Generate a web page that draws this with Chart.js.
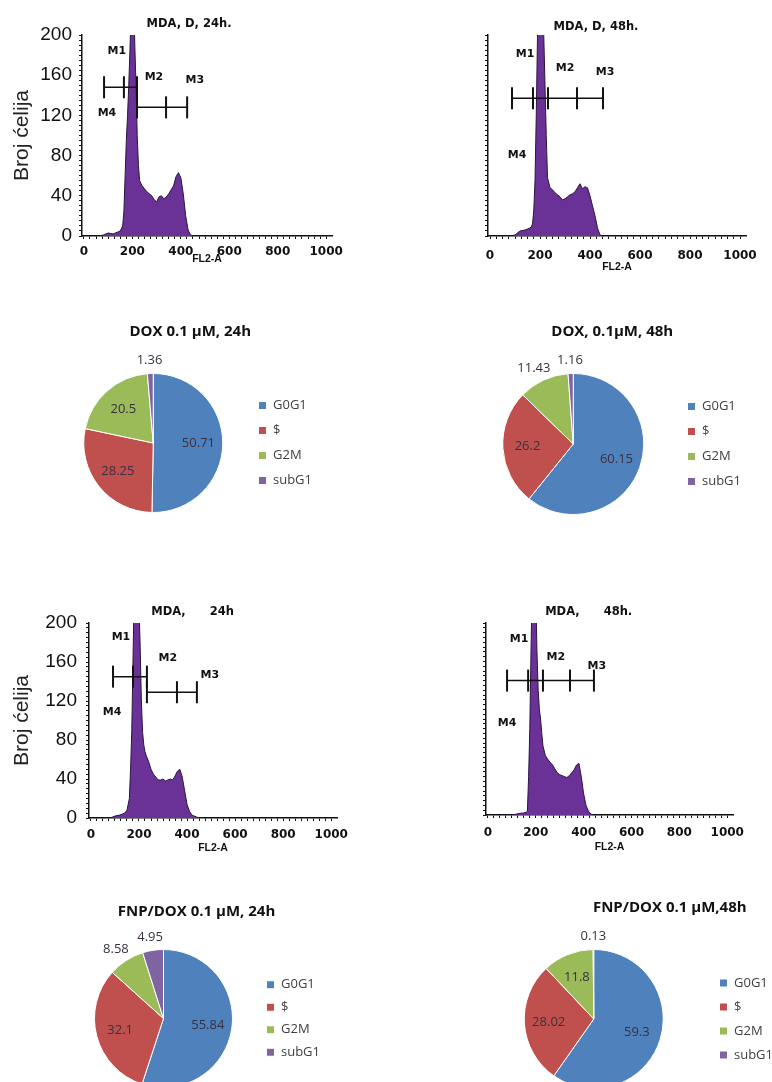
<!DOCTYPE html>
<html>
<head>
<meta charset="utf-8">
<title>MDA – ćelijski ciklus</title>
<script src="https://cdn.jsdelivr.net/npm/chart.js"></script>
<style>
  html, body { margin: 0; background: #fff; }
  #page { position: relative; width: 772px; height: 1082px; overflow: hidden; background: #fff; }
  #page canvas { position: absolute; }
</style>
</head>
<body>
<div id="page">
  <canvas id="histD24"></canvas>
  <canvas id="histD48"></canvas>
  <canvas id="pieD24"></canvas>
  <canvas id="pieD48"></canvas>
  <canvas id="histC24"></canvas>
  <canvas id="histC48"></canvas>
  <canvas id="pieC24"></canvas>
  <canvas id="pieC48"></canvas>
</div>
<script>
// FL2-A kanali (x osa histograma)
const channels = [60, 80, 100, 120, 140, 150, 160, 165, 170, 175, 180, 185, 190, 195, 200, 205, 210, 215, 220, 225,
  230, 240, 250, 260, 270, 280, 290, 300, 310, 320, 330, 340, 350, 360, 370, 380, 390, 400, 410, 420, 430, 440, 450, 460];

// broj ćelija po kanalu
const countsD24 = [0, 1, 3, 2, 4, 5, 10, 25, 60, 95, 120, 150, 185, 230, 260, 250, 190, 150, 100, 70,
  55, 50, 47, 44, 42, 40, 36, 34, 39, 40, 37, 39, 42, 46, 50, 59, 63, 58, 42, 20, 6, 1, 0, 0];
const countsD48 = [0, 0, 1, 5, 6, 7, 8, 9, 12, 25, 55, 120, 200, 260, 270, 260, 240, 200, 150, 100,
  58, 48, 46, 43, 41, 39, 36, 37, 39, 41, 42, 44, 48, 52, 47, 49, 48, 40, 30, 20, 8, 1, 0, 0];
const countsC24 = [0, 0, 2, 3, 5, 8, 20, 50, 90, 160, 230, 260, 250, 240, 220, 175, 120, 88, 75, 68,
  64, 58, 50, 45, 42, 39, 39, 40, 38, 39, 40, 39, 43, 48, 50, 42, 28, 14, 7, 3, 2, 1, 0, 0];
const countsC48 = [0, 0, 0, 1, 2, 2, 3, 4, 40, 90, 170, 240, 270, 260, 230, 170, 130, 110, 100, 85,
  72, 62, 58, 55, 52, 48, 44, 42, 41, 40, 39, 41, 44, 47, 52, 54, 40, 22, 10, 4, 1, 0, 0, 0];

// markeri (granice kanala i visina linije)
const gateEdgesD24 = [[83, 165, 219], [219, 339, 426]];
const gateLevelsD24 = [148, 128];
const gateEdgesD48 = [[88, 172, 232, 348, 452]];
const gateLevelsD48 = [137];
const gateEdgesC24 = [[92, 175, 233], [233, 358, 441]];
const gateLevelsC24 = [145, 129];
const gateEdgesC48 = [[80, 168, 230, 343, 443]];
const gateLevelsC48 = [140];

const markerNames = ['M1', 'M2', 'M3', 'M4'];
const markersD24 = [[136, 184], [289, 158], [458, 155], [95, 122]];
const markersD48 = [[140, 181], [300, 167], [460, 163], [108, 80]];
const markersC24 = [[125, 185], [320, 164], [495, 147], [88, 109]];
const markersC48 = [[130, 183], [284, 164], [455, 155], [80, 96]];

const xTickLabels = [0, 200, 400, 600, 800, 1000];
const yTickLabels = [0, 40, 80, 120, 160, 200];

// faze ciklusa (%)
const phases = ['G0G1', '$', 'G2M', 'subG1'];
const phaseColors = ['#4f81bd', '#c0504d', '#9bbb59', '#8064a2'];
const pieDox24 = [50.71, 28.25, 20.5, 1.36];
const pieDox48 = [60.15, 26.2, 11.43, 1.16];
const pieFnp24 = [55.84, 32.1, 8.58, 4.95];
const pieFnp48 = [59.3, 28.02, 11.8, 0.13];

// sitne podjele osa
const xMinorTicks = Array.from({ length: 41 }, (_, i) => i * 25);
const yMinorTicks = Array.from({ length: 41 }, (_, i) => i * 5);

const INK = '#111';

// natpisi na histogramu (naslov i M1..M4) preko skala
const facsText = {
  id: 'facsText',
  afterDatasetsDraw(chart, args, o) {
    const { ctx, scales: { x, y } } = chart;
    ctx.save();
    ctx.fillStyle = INK;
    ctx.textAlign = 'center';
    ctx.textBaseline = 'middle';
    ctx.font = 'bold 11px "DejaVu Sans"';
    o.markers.forEach((m, i) => {
      ctx.fillText(markerNames[i], x.getPixelForValue(m[0]), y.getPixelForValue(m[1]));
    });
    ctx.font = 'bold 11.5px "DejaVu Sans"';
    ctx.fillText(o.title, x.getPixelForValue(o.titleAt[0]), y.getPixelForValue(o.titleAt[1]));
    ctx.restore();
  }
};

function place(canvas, box) {
  canvas.width = box.w;
  canvas.height = box.h;
  canvas.style.left = box.x + 'px';
  canvas.style.top = box.y + 'px';
}

function histogram(id, box, area, counts, gateEdges, gateLevels, markers, title, titleAt, o) {
  const canvas = document.getElementById(id);
  place(canvas, box);
  const yWidth = area.left - box.x;
  const xHeight = o.xTitleY + 6.3 - area.bottom;

  const datasets = [{
    data: counts.map((c, i) => ({ x: channels[i], y: c })),
    borderColor: '#2b1540',
    borderWidth: 1,
    backgroundColor: '#6a3196',
    fill: 'origin',
    pointRadius: 0,
    tension: 0,
    order: 1
  }];
  gateEdges.forEach((edges, g) => {
    datasets.push({
      data: edges.map(e => ({ x: e, y: gateLevels[g] })),
      borderColor: INK,
      borderWidth: 1.5,
      fill: false,
      pointStyle: 'line',
      pointRotation: 90,
      pointRadius: 11,
      pointBorderWidth: 2,
      pointBorderColor: INK,
      order: 0
    });
  });

  return new Chart(canvas, {
    type: 'line',
    data: { datasets },
    options: {
      responsive: false,
      animation: false,
      events: [],
      layout: {
        padding: {
          left: 0,
          top: area.top - box.y,
          right: box.x + box.w - area.right,
          bottom: box.y + box.h - area.bottom - xHeight
        }
      },
      plugins: {
        legend: { display: false },
        tooltip: { enabled: false },
        facsText: { markers, title, titleAt }
      },
      scales: {
        x: {
          type: 'linear', min: -8, max: 1024,
          afterBuildTicks: s => { s.ticks = xMinorTicks.map(v => ({ value: v })); },
          afterFit: s => { s.height = xHeight; },
          ticks: {
            autoSkip: false, maxRotation: 0, minRotation: 0, padding: o.xPad, color: INK,
            font: { family: 'DejaVu Sans', size: 12, weight: 'bold' },
            callback: v => xTickLabels.includes(v) ? String(v) : ''
          },
          grid: { drawOnChartArea: false, tickLength: 3, tickColor: INK },
          border: { color: INK, width: 1.5 },
          title: {
            display: true, text: 'FL2-A', color: INK,
            font: { family: 'Liberation Sans', size: 10.5, weight: 'bold' },
            padding: { top: 0, bottom: 0 }
          }
        },
        y: {
          type: 'linear', min: 0, max: 200,
          afterBuildTicks: s => { s.ticks = yMinorTicks.map(v => ({ value: v })); },
          afterFit: s => { s.width = yWidth; },
          ticks: {
            autoSkip: false, padding: o.yPad, color: INK,
            font: { family: 'Liberation Sans', size: 19 },
            callback: v => (o.yLabels && yTickLabels.includes(v)) ? String(v) : ''
          },
          grid: { drawOnChartArea: false, tickLength: 3, tickColor: INK },
          border: { color: INK, width: 1.5 },
          title: {
            display: o.yLabels, text: 'Broj ćelija', color: '#222',
            font: { family: 'Liberation Sans', size: 21 },
            padding: { top: 9.4, bottom: 0 }
          }
        }
      }
    },
    plugins: [facsText]
  });
}

// brojevi na kriškama
const sliceLabels = {
  id: 'sliceLabels',
  afterDatasetsDraw(chart, args, o) {
    const ctx = chart.ctx;
    const meta = chart.getDatasetMeta(0);
    const values = chart.data.datasets[0].data;
    ctx.save();
    ctx.font = '13px "Open Sans"';
    ctx.fillStyle = '#3a3040';
    ctx.textAlign = 'center';
    ctx.textBaseline = 'middle';
    meta.data.forEach((arc, i) => {
      const p = arc.getProps(['x', 'y', 'startAngle', 'endAngle', 'outerRadius'], true);
      const mid = (p.startAngle + p.endAngle) / 2;
      const cos = Math.cos(mid), sin = Math.sin(mid);
      const text = String(values[i]);
      let px, py;
      if (o.outside[i]) {
        const d = p.outerRadius + 6;
        px = p.x + cos * d + cos * ctx.measureText(text).width / 2;
        py = p.y + sin * d + sin * 7;
      } else {
        const d = p.outerRadius * 0.65;
        px = p.x + cos * d;
        py = p.y + sin * d;
      }
      ctx.fillText(text, px, py);
    });
    ctx.restore();
  }
};

// naslov iznad pite
const caption = {
  id: 'caption',
  afterDraw(chart, args, o) {
    const { ctx, chartArea: a } = chart;
    ctx.save();
    ctx.font = 'bold 15px "Open Sans"';
    ctx.fillStyle = '#111';
    ctx.textAlign = 'center';
    ctx.textBaseline = 'middle';
    ctx.fillText(o.text, (a.left + a.right) / 2 + o.dx, o.y);
    ctx.restore();
  }
};

function pie(id, box, padTop, values, title, dx, outside, legendPad) {
  const canvas = document.getElementById(id);
  place(canvas, box);
  return new Chart(canvas, {
    type: 'pie',
    data: {
      labels: phases,
      datasets: [{
        data: values,
        backgroundColor: phaseColors,
        borderColor: '#fff',
        borderWidth: 1,
        hoverOffset: 0
      }]
    },
    options: {
      responsive: false,
      animation: false,
      events: [],
      layout: { padding: { top: padTop, left: 0, right: 0, bottom: 0 } },
      plugins: {
        tooltip: { enabled: false },
        legend: {
          position: 'right',
          labels: {
            boxWidth: 8, boxHeight: 8, padding: legendPad, color: '#404040',
            font: { family: 'Open Sans', size: 13 }
          }
        },
        sliceLabels: { outside },
        caption: { text: title, dx, y: 20 }
      }
    },
    plugins: [sliceLabels, caption]
  });
}

histogram('histD24', { x: 0, y: 0, w: 360, h: 280 }, { left: 82, right: 332, top: 35, bottom: 236 },
  countsD24, gateEdgesD24, gateLevelsD24, markersD24, 'MDA, D, 24h.', [434, 211],
  { xTitleY: 259, xPad: 6, yPad: 7, yLabels: true });
histogram('histD48', { x: 400, y: 0, w: 372, h: 280 }, { left: 488, right: 746, top: 35, bottom: 236 },
  countsD48, gateEdgesD48, gateLevelsD48, markersD48, 'MDA, D, 48h.', [424, 208],
  { xTitleY: 267, xPad: 10, yPad: 7, yLabels: false });
histogram('histC24', { x: 0, y: 590, w: 370, h: 270 }, { left: 89, right: 337, top: 623, bottom: 818 },
  countsC24, gateEdgesC24, gateLevelsC24, markersC24, 'MDA,      24h', [423, 211],
  { xTitleY: 848, xPad: 7, yPad: 9, yLabels: true });
histogram('histC48', { x: 400, y: 590, w: 372, h: 270 }, { left: 486, right: 733, top: 623, bottom: 815 },
  countsC48, gateEdgesC48, gateLevelsC48, markersC48, 'MDA,      48h.', [421, 211],
  { xTitleY: 847, xPad: 8, yPad: 7, yLabels: false });

pie('pieD24', { x: 60, y: 312, w: 262, h: 201 }, 61, pieDox24, 'DOX 0.1 µM, 24h', 37, [false, false, false, true], 12);
pie('pieD48', { x: 471, y: 312, w: 280, h: 203 }, 61, pieDox48, 'DOX, 0.1µM, 48h', 39, [false, false, true, true], 12);
pie('pieC24', { x: 70, y: 892, w: 260, h: 196 }, 57, pieFnp24, 'FNP/DOX 0.1 µM, 24h', 33, [false, false, true, true], 9.5);
pie('pieC48', { x: 479, y: 888, w: 304, h: 201 }, 61, pieFnp48, 'FNP/DOX 0.1 µM,48h', 76, [false, false, false, true], 11);
</script>
</body>
</html>
